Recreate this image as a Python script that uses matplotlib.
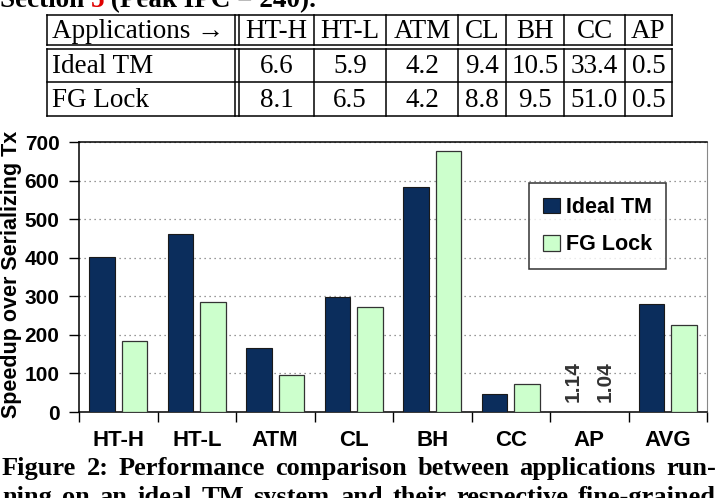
import matplotlib
matplotlib.use("Agg")
import matplotlib.pyplot as plt
import numpy as np
from matplotlib.lines import Line2D


# ------------------------------------------------------------
# Figure 2 page crop: peak IPC table, speedup bars, caption
# ------------------------------------------------------------

W, H = 718, 498

# table above the chart
TABLE_HEADER = "Applications \u2192"
TABLE_COLUMNS = ["HT-H", "HT-L", "ATM", "CL", "BH", "CC", "AP"]
TABLE_ROWS = ["Ideal TM", "FG Lock"]
IDEAL_TM_IPC = ["6.6", "5.9", "4.2", "9.4", "10.5", "33.4", "0.5"]
FG_LOCK_IPC = ["8.1", "6.5", "4.2", "8.8", "9.5", "51.0", "0.5"]

# bar chart: speedup over serializing transactions
CATEGORIES = ["HT-H", "HT-L", "ATM", "CL", "BH", "CC", "AP", "AVG"]
IDEAL_TM = [403, 462, 167, 299, 583, 47, 1.14, 281]
FG_LOCK = [185, 285, 96, 273, 677, 72, 1.04, 226]

SERIES_LABELS = ["Ideal TM", "FG Lock"]
NAVY = "#0b2d5c"
LIGHT_GREEN = "#ccffcc"

SERIF = ["Liberation Serif", "DejaVu Serif"]
SANS = ["Liberation Sans", "DejaVu Sans"]

TOP_LINE = ["Section ", "5", " (Peak IPC = 240)."]
CAPTION_1 = "Figure 2:  Performance comparison between applications run-"
CAPTION_2 = "ning on an ideal TM system and their respective fine-grained"


def justify(ov, renderer, text, y, x0, x1, **kw):
    """Place words so the line fills x0..x1, like a justified paper column."""
    words = text.split()
    arts = [ov.text(0, y, w, **kw) for w in words]
    widths = [a.get_window_extent(renderer).width for a in arts]
    gap = (x1 - x0 - sum(widths)) / (len(words) - 1)
    x = x0
    for a, w in zip(arts, widths):
        a.set_x(x)
        x += w + gap


def main() -> None:
    fig = plt.figure(figsize=(W / 100, H / 100), dpi=100)
    renderer = fig.canvas.get_renderer()

    # overlay in pixel coordinates for the page text and table
    ov = fig.add_axes([0, 0, 1, 1], zorder=-1)
    ov.set_xlim(0, W)
    ov.set_ylim(H, 0)
    ov.axis("off")

    # cut-off line of body text above the table
    x = 0
    colors = ["black", "#e00000", "black"]
    for piece, c in zip(TOP_LINE, colors):
        t = ov.text(x, 7, piece, family=SERIF, weight="bold", fontsize=19.5,
                    color=c, va="baseline", ha="left")
        x += t.get_window_extent(renderer).width

    # table
    col_edges = [47, 235, 314, 386, 458, 506, 564, 625, 672]
    row_edges = [15, 45, 49, 82, 116]
    lw = 1.1
    for y in row_edges:
        ov.add_line(Line2D([col_edges[0], col_edges[-1]], [y, y], color="black", lw=lw))
    for xe in col_edges + [239]:
        ov.add_line(Line2D([xe, xe], [15, 45], color="black", lw=lw))
        ov.add_line(Line2D([xe, xe], [49, 116], color="black", lw=lw))

    header_y = (row_edges[0] + row_edges[1]) / 2
    row_ys = [(row_edges[2] + row_edges[3]) / 2, (row_edges[3] + row_edges[4]) / 2]
    text_kw = dict(family=SERIF, fontsize=19.5, va="center")

    ov.text(52, header_y + 1, TABLE_HEADER, ha="left", **text_kw)
    lefts = [239] + col_edges[2:-1]
    rights = col_edges[2:]
    for name, l, r in zip(TABLE_COLUMNS, lefts, rights):
        ov.text((l + r) / 2, header_y + 1, name, ha="center", **text_kw)
    for row_name, values, y in zip(TABLE_ROWS, [IDEAL_TM_IPC, FG_LOCK_IPC], row_ys):
        ov.text(52, y + 1, row_name, ha="left", **text_kw)
        for v, l, r in zip(values, lefts, rights):
            ov.text((l + r) / 2, y + 1, v, ha="center", **text_kw)

    # bar chart
    ax_l, ax_r, ax_t, ax_b = 79, 707, 142, 412
    ax = fig.add_axes([ax_l / W, 1 - ax_b / H, (ax_r - ax_l) / W, (ax_b - ax_t) / H])

    x = np.arange(len(CATEGORIES))
    width = 0.33
    offset = 0.207
    bars_ideal = ax.bar(x - offset, IDEAL_TM, width, color=NAVY, edgecolor="#1a1a1a",
                        linewidth=0.8, label=SERIES_LABELS[0], zorder=3)
    bars_fg = ax.bar(x + offset, FG_LOCK, width, color=LIGHT_GREEN, edgecolor="#333333",
                     linewidth=0.9, label=SERIES_LABELS[1], zorder=3)

    # tiny bars get their value written above them
    for bars, values in [(bars_ideal, IDEAL_TM), (bars_fg, FG_LOCK)]:
        for b, v in zip(bars, values):
            if v < 10:
                ax.annotate(f"{v:.2f}", xy=(b.get_x() + b.get_width() / 2, v),
                            xytext=(0, 7), textcoords="offset points",
                            rotation=90, ha="center", va="bottom",
                            family=SANS, weight="bold", fontsize=15, color="#333333")

    ax.set_xlim(-0.5, len(CATEGORIES) - 0.5)
    ax.set_ylim(0, 700)
    ax.set_yticks(range(0, 701, 100))
    ax.yaxis.grid(True, linestyle=(0, (1, 3)), color="#777777", linewidth=0.9, zorder=0)

    ax.set_xticks(x)
    ax.set_xticklabels(CATEGORIES)
    ax.set_xticks(np.arange(-0.5, len(CATEGORIES)), minor=True)
    ax.tick_params(axis="x", which="major", length=0, pad=13)
    ax.tick_params(axis="x", which="minor", length=7, width=1, direction="out")
    ax.tick_params(axis="y", length=7, width=1, direction="out", pad=7)

    for lab in ax.get_xticklabels():
        lab.set_family(SANS)
        lab.set_weight("bold")
        lab.set_fontsize(16)
    for lab in ax.get_yticklabels():
        lab.set_family(SANS)
        lab.set_weight("bold")
        lab.set_fontsize(15)

    ax.set_ylabel("Speedup over Serializing Tx", family=SANS, weight="bold",
                  fontsize=15.5)
    ax.yaxis.set_label_coords(-0.091, 0.511)

    for side in ["left", "bottom", "top"]:
        ax.spines[side].set_color("black")
        ax.spines[side].set_linewidth(1.1)
    ax.spines["right"].set_color("#888888")

    leg = ax.legend(loc="upper right", bbox_to_anchor=(0.935, 0.848), borderaxespad=0,
                    frameon=True, fancybox=False, handlelength=0.75, handleheight=0.75,
                    handletextpad=0.3, labelspacing=0.75, borderpad=0.65,
                    prop={"family": SANS, "weight": "bold", "size": 15.5})
    leg.get_frame().set_edgecolor("black")
    leg.get_frame().set_linewidth(1.1)

    # caption, justified across the column
    cap_kw = dict(family=SERIF, weight="bold", fontsize=19, va="baseline", ha="left")
    justify(ov, renderer, CAPTION_1, 475, 2, 716, **cap_kw)
    justify(ov, renderer, CAPTION_2, 504, 2, 716, **cap_kw)

    fig.savefig("out.png", dpi=100)
    plt.close(fig)


if __name__ == "__main__":
    main()
